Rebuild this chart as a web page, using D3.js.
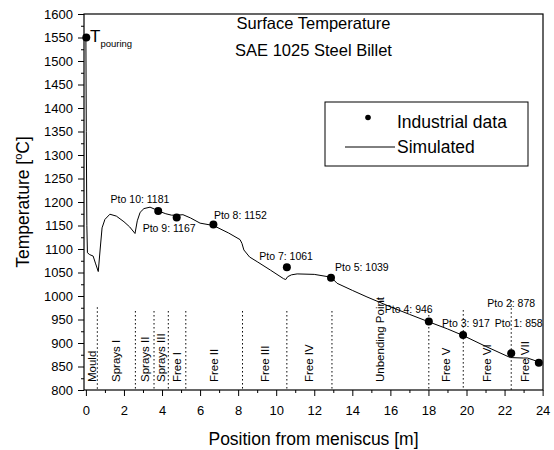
<!DOCTYPE html>
<html>
<head>
<meta charset="utf-8">
<script src="https://cdn.jsdelivr.net/npm/d3@7"></script>
<style>
  body { margin: 0; background: #fff; }
  text { font-family: 'Liberation Sans', Arial, sans-serif; fill: #000; }
</style>
</head>
<body>
<svg id="svg_temp" width="554" height="450"></svg>
<script>
// simulated surface temperature along the strand
const simX = [0, 0.02, 0.05, 0.08, 0.2, 0.38, 0.5, 0.65, 0.75, 0.85, 1.0, 1.26, 1.6, 2.0, 2.3, 2.58,
  2.7, 2.85, 3.05, 3.37, 3.6, 3.8, 4.2, 4.5, 4.8, 5.1, 5.5, 6.0, 6.7, 7.5, 8.1, 8.2, 8.3, 8.6, 9.0,
  9.7, 10.38, 10.5, 10.6, 10.8, 11.1, 12.0, 12.88, 13.2, 14.0, 14.77, 16.0, 17.0, 18.02, 19.0, 19.82,
  21.0, 22.3, 23.0, 23.2, 23.5, 23.95]
const simT = [1548, 1350, 1150, 1092, 1088, 1085, 1070, 1052, 1100, 1145, 1163, 1174, 1170, 1158, 1147, 1133,
  1160, 1178, 1186, 1189, 1185, 1181, 1175, 1172, 1172, 1173, 1166, 1155, 1150, 1134, 1120, 1112, 1098, 1083, 1073,
  1055, 1037, 1035, 1041, 1045, 1047, 1046, 1040, 1027, 1012, 998, 977, 961, 945, 930, 916,
  893, 869, 868, 868, 864, 857]

// industrial measurements
const ptoNames = ['Pto 10', 'Pto 9', 'Pto 8', 'Pto 7', 'Pto 5', 'Pto 4', 'Pto 3', 'Pto 2', 'Pto 1']
const ptoX = [3.8, 4.77, 6.7, 10.56, 12.88, 18.02, 19.82, 22.35, 23.8]
const ptoT = [1181, 1167, 1152, 1061, 1039, 946, 917, 878, 858]
const pouringX = 0.02
const pouringT = 1550

// cooling zones
const zoneNames = ['Mould', 'Sprays I', 'Sprays II', 'Sprays III', 'Free I', 'Free II', 'Free III',
  'Free IV', 'Unbending Point', 'Free V', 'Free VI', 'Free VII']
const zoneEdges = [0, 0.6, 2.6, 3.58, 4.33, 5.25, 8.23, 10.56, 12.93, 18.02, 19.83, 22.35, 23.75]
const zoneLineTop = [976, 968, 968, 968, 968, 968, 968, 968, 968, 970, 991]

const yTicks = d3.range(800, 1601, 50)
const xTicks = d3.range(0, 25, 2)

// label placement relative to the dots (px)
const labelPos = [[-47.6, -7.6], [-34, 14.8], [0.5, -5.6], [-27.6, -7.3], [4, -7],
  [-44, -8], [-21, -8.3], [-24, -46.6], [-44, -35.4]]

const svg = d3.select('#svg_temp')
const box = { left: 84, right: 543, top: 14, bottom: 390 }

const x = d3.scaleLinear().domain([-0.1, 24.02]).range([box.left, box.right])
const y = d3.scaleLinear().domain([800, 1600]).range([box.bottom, box.top])

// axes
const yAxis = svg.append('g').attr('transform', `translate(${box.left},0)`)
  .call(d3.axisLeft(y).tickValues(yTicks).tickSize(6).tickPadding(5).tickFormat(d3.format('d')))
yAxis.append('g')
  .call(d3.axisLeft(y).tickValues(d3.range(825, 1600, 50)).tickSize(3).tickFormat(''))
const xAxis = svg.append('g').attr('transform', `translate(0,${box.bottom})`)
  .call(d3.axisBottom(x).tickValues(xTicks).tickSize(6).tickPadding(10).tickFormat(d3.format('d')))
xAxis.append('g')
  .call(d3.axisBottom(x).tickValues(d3.range(1, 24, 2)).tickSize(3).tickFormat(''))
svg.selectAll('.domain').remove()
svg.selectAll('.tick line').attr('stroke', '#000').attr('stroke-width', 1)
svg.selectAll('.tick text').attr('font-size', 13).attr('font-family', "'Liberation Sans', Arial, sans-serif")

svg.append('rect')
  .attr('x', box.left).attr('y', box.top)
  .attr('width', box.right - box.left).attr('height', box.bottom - box.top)
  .attr('fill', 'none').attr('stroke', '#000').attr('stroke-width', 1.2)

// zone separators and names
svg.append('g')
  .selectAll('line')
  .data(zoneEdges.slice(1, -1))
  .enter()
  .append('line')
  .attr('x1', d => x(d)).attr('x2', d => x(d))
  .attr('y1', (d, i) => y(zoneLineTop[i])).attr('y2', box.bottom)
  .attr('stroke', '#000').attr('stroke-width', 1).attr('stroke-dasharray', '1.5,2.5')

svg.append('g')
  .selectAll('text')
  .data(zoneNames)
  .enter()
  .append('text')
  .text(d => d)
  .attr('transform', (d, i) => `translate(${x((zoneEdges[i] + zoneEdges[i + 1]) / 2)},382) rotate(-90)`)
  .attr('dy', '0.35em')
  .attr('font-size', 11.5)

// simulated curve
const line = d3.line().x(d => x(d[0])).y(d => y(d[1]))
svg.append('path')
  .datum(simX.map((v, i) => [v, simT[i]]))
  .attr('d', line)
  .attr('fill', 'none').attr('stroke', '#000').attr('stroke-width', 1)

// industrial points
svg.append('g')
  .selectAll('circle')
  .data(ptoX)
  .enter()
  .append('circle')
  .attr('cx', d => x(d))
  .attr('cy', (d, i) => y(ptoT[i]))
  .attr('r', 4)

svg.append('g')
  .selectAll('text')
  .data(ptoNames)
  .enter()
  .append('text')
  .text((d, i) => `${d}: ${ptoT[i]}`)
  .attr('x', (d, i) => x(ptoX[i]) + labelPos[i][0])
  .attr('y', (d, i) => y(ptoT[i]) + labelPos[i][1])
  .attr('font-size', 10.5)

svg.append('circle').attr('cx', x(pouringX)).attr('cy', y(pouringT)).attr('r', 4)
const pour = svg.append('text').attr('x', 90).attr('y', 42).attr('font-size', 17)
pour.append('tspan').text('T')
pour.append('tspan').text('pouring').attr('font-size', 9.5).attr('dy', 5)

// title
const mid = (box.left + box.right) / 2
const title = svg.append('g').attr('font-size', 16.5).attr('text-anchor', 'middle')
title.append('text').text('Surface Temperature').attr('x', mid).attr('y', 29)
title.append('text').text('SAE 1025 Steel Billet').attr('x', mid).attr('y', 56)

// legend
const legend = svg.append('g')
legend.append('rect')
  .attr('x', 325).attr('y', 102).attr('width', 203).attr('height', 64)
  .attr('fill', '#fff').attr('stroke', '#000').attr('stroke-width', 1)
legend.append('circle').attr('cx', 368).attr('cy', 117.5).attr('r', 2.8)
legend.append('line').attr('x1', 345).attr('x2', 395).attr('y1', 147).attr('y2', 147)
  .attr('stroke', '#000').attr('stroke-width', 1)
legend.append('text').text('Industrial data').attr('x', 397).attr('y', 128).attr('font-size', 17.5)
legend.append('text').text('Simulated').attr('x', 397).attr('y', 153).attr('font-size', 17.5)

// axis titles
svg.append('text')
  .text('Position from meniscus [m]')
  .attr('x', mid).attr('y', 445)
  .attr('text-anchor', 'middle').attr('font-size', 17.5)

const yTitle = svg.append('text')
  .attr('transform', `translate(29,${(box.top + box.bottom) / 2}) rotate(-90)`)
  .attr('text-anchor', 'middle').attr('font-size', 17.5)
yTitle.append('tspan').text('Temperature [')
yTitle.append('tspan').text('o').attr('font-size', 11).attr('dy', -7)
yTitle.append('tspan').text('C]').attr('dy', 7)
</script>
</body>
</html>
